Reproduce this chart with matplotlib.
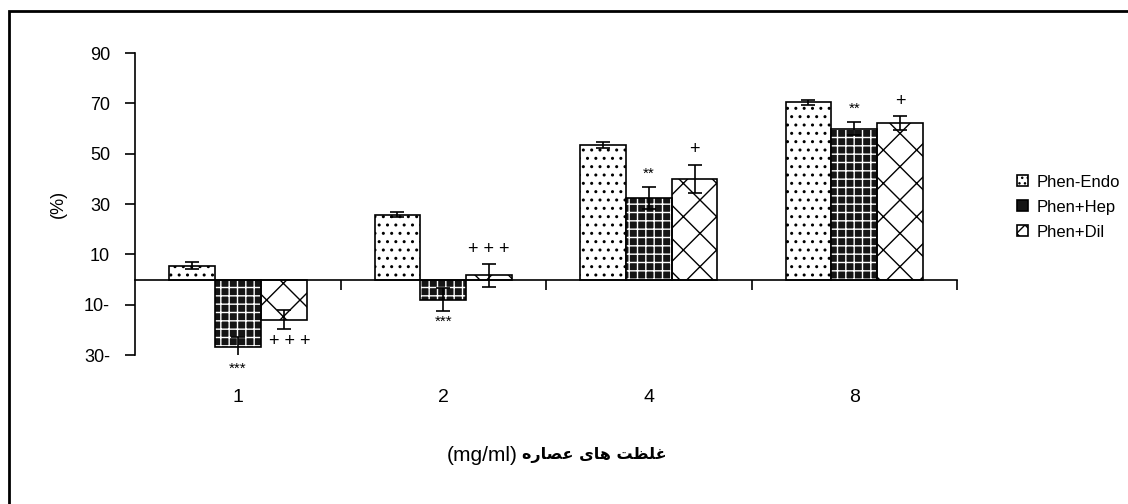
import matplotlib.pyplot as plt
from matplotlib.patches import Rectangle, Patch
import numpy as np

plt.rcParams['font.family'] = ['Liberation Sans', 'DejaVu Sans']
plt.rcParams['hatch.linewidth'] = 1.0

doses = ['1', '2', '4', '8']
series = ['Phen-Endo', 'Phen+Hep', 'Phen+Dil']
endo = [5.5, 25.8, 53.3, 70.4]
endo_err = [1.5, 1.0, 1.2, 1.0]
hep = [-27.0, -8.0, 32.5, 60.0]
hep_err = [4.0, 4.5, 4.4, 2.6]
dil = [-16.0, 1.7, 40.0, 62.2]
dil_err = [3.8, 4.5, 5.7, 2.6]
hep_marks = ['***', '***', '**', '**']
dil_marks = ['+ + +', '+ + +', '+', '+']
yticks = [90, 70, 50, 30, 10, -10, -30]
ytick_labels = ['90', '70', '50', '30', '10', '10-', '30-']

# x label: Persian part written in visual order with presentation forms
xlabel_fa = '\uFEE9\uFEAD\uFE8E\uFEBC\uFECB \uFBFC\uFE8E\uFEEB \uFE96\uFEC8\uFEE0\uFECF'
xlabel_unit = '(mg/ml)'

fig = plt.figure(figsize=(11.28, 5.04), dpi=100)
ax = fig.add_axes([0.1197, 0.2956, 0.7287, 0.5992])

x = np.arange(len(doses))
w = 0.223
ek = dict(ecolor='black', elinewidth=1.2, capsize=5, capthick=1.2)

# Phen-Endo: sparse dots
ax.bar(x - w, endo, w, facecolor='white', edgecolor='black', hatch='..',
       linewidth=1.2, zorder=2)
# Phen+Hep: dark cells on a white grid
ax.bar(x, hep, w, facecolor='#151515', edgecolor='white', hatch='++',
       linewidth=0, zorder=2)
ax.bar(x, hep, w, fill=False, edgecolor='black', linewidth=1.2, zorder=3)
# Phen+Dil: lattice
ax.bar(x + w, dil, w, facecolor='white', edgecolor='black', hatch='x',
       linewidth=1.2, zorder=2)

ax.errorbar(x - w, endo, yerr=endo_err, fmt='none', zorder=4, **ek)
ax.errorbar(x, hep, yerr=hep_err, fmt='none', zorder=4, **ek)
ax.errorbar(x + w, dil, yerr=dil_err, fmt='none', zorder=4, **ek)

# significance marks
for i in range(len(doses)):
    if hep[i] < 0:
        ax.text(x[i], hep[i] - hep_err[i] - 1.5, hep_marks[i], ha='center', va='top', fontsize=11)
    else:
        ax.text(x[i], hep[i] + hep_err[i] + 2.5, hep_marks[i], ha='center', va='bottom', fontsize=11)
ax.text(x[0] + w + 0.03, dil[0] - dil_err[0] - 1.5, dil_marks[0], ha='center', va='top', fontsize=13)
for i in range(1, len(doses)):
    ax.text(x[i] + w, dil[i] + dil_err[i] + 2.5, dil_marks[i], ha='center', va='bottom', fontsize=13)

ax.set_xlim(-0.5, 3.5)
ax.set_ylim(-30, 90)
ax.spines['top'].set_visible(False)
ax.spines['right'].set_visible(False)
ax.spines['bottom'].set_position(('data', 0))
ax.spines['left'].set_linewidth(1.2)
ax.spines['bottom'].set_linewidth(1.2)

ax.set_yticks(yticks)
ax.set_yticklabels(ytick_labels, fontsize=13)
ax.tick_params(axis='y', length=7, width=1.2, pad=11)

ax.set_xticks(x)
ax.set_xticklabels(doses, fontsize=14)
ax.set_xticks(x + 0.5, minor=True)
ax.tick_params(axis='x', which='major', length=0, pad=79)
ax.tick_params(axis='x', which='minor', length=7, width=1.2, direction='out')

ax.set_ylabel('(%)', fontsize=13, labelpad=12)

fig.text(0.459, 0.097, xlabel_unit, ha='right', va='center', fontsize=15)
fig.text(0.463, 0.097, xlabel_fa, ha='left', va='center', fontsize=11.5,
         fontweight='bold', family=['DejaVu Sans'])

handles = [Patch(facecolor='white', edgecolor='black', hatch='...', linewidth=1.2),
           Patch(facecolor='#151515', edgecolor='black', linewidth=1.2),
           Patch(facecolor='white', edgecolor='black', hatch='xx', linewidth=1.2)]
ax.legend(handles, series, loc='center left', bbox_to_anchor=(1.055, 0.49),
          frameon=False, fontsize=12, handlelength=0.65, handleheight=0.65,
          handletextpad=0.5, labelspacing=0.6)

fig.patches.append(Rectangle((9 / 1128, -0.05), 1.2, 1 - 11 / 504 + 0.05,
                             transform=fig.transFigure, fill=False,
                             edgecolor='black', linewidth=2))

fig.savefig('out.png', dpi=100)
